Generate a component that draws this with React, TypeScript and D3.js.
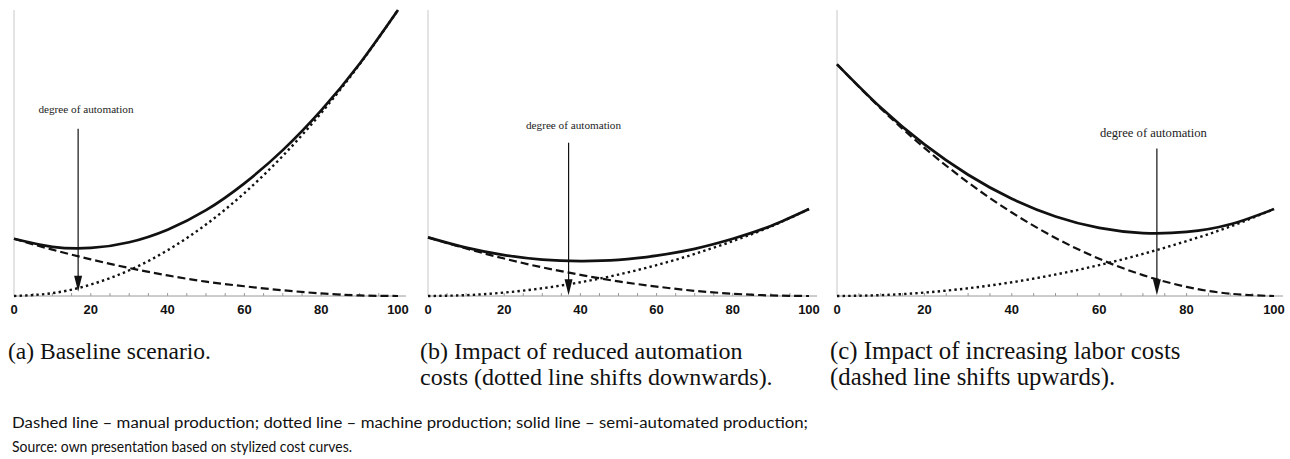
import React from "react";
import * as d3 from "d3";

// ---- data ----
const degree = [0, 10, 20, 30, 40, 50, 60, 70, 80, 90, 100];

// (a) Baseline scenario
const manualA = [20, 16.2, 12.8, 9.8, 7.2, 5.0, 3.4, 2.0, 0.9, 0.2, 0];
const machineA = [0, 1, 4, 9, 16, 25, 36, 49, 64, 81, 100];
const semiA = [20, 17.2, 16.8, 18.8, 23.2, 30, 39.4, 51, 64.9, 81.2, 100];

// (b) Reduced automation costs
const manualB = [20.5, 16.6, 13.1, 10.0, 7.4, 5.1, 3.3, 1.8, 0.8, 0.2, 0];
const machineB = [0, 0.3, 1.2, 2.7, 4.8, 7.5, 10.8, 14.7, 19.2, 24.3, 30.4];
const semiB = [20.5, 16.9, 14.3, 12.7, 12.2, 12.6, 14.1, 16.5, 20.0, 24.5, 30.4];

// (c) Increasing labor costs
const manualC = [81, 65.6, 51.8, 39.7, 29.2, 20.3, 13.0, 7.3, 3.2, 0.8, 0];
const machineC = [0, 0.3, 1.2, 2.7, 4.8, 7.5, 10.8, 14.7, 19.2, 24.3, 30.4];
const semiC = [81, 65.9, 53.0, 42.4, 34.0, 27.8, 23.8, 22.0, 22.4, 25.1, 30.4];

// degree of automation annotations: [arrow x, text x, arrow start, arrow tip, text baseline] (data units)
const annotA = [16.7, 18.75, 58.5, 1.5, 63.9];
const annotB = [36.9, 38.2, 53.6, 0.3, 58.4];
const annotC = [73.2, 72.4, 51.6, 0.3, 55.6];

const xTickLabels = [0, 20, 40, 60, 80, 100];
const xMinorTicks = [5, 10, 15, 20, 25, 30, 35, 40, 45, 50, 55, 60, 65, 70, 75, 80, 85, 90, 95];

const captionA = ["(a) Baseline scenario."];
const captionB = ["(b) Impact of reduced automation", "costs (dotted line shifts downwards)."];
const captionC = ["(c) Impact of increasing labor costs", "(dashed line shifts upwards)."];
const footnote = [
  "Dashed line \u2013 manual production; dotted line \u2013 machine production; solid line \u2013 semi-automated production;",
  "Source: own presentation based on stylized cost curves.",
];

type PanelProps = {
  x0: number;
  x1: number;
  axisEnd: number;
  manual: number[];
  machine: number[];
  semi: number[];
  annot: number[];
  annotSize: number;
};

const yScale = d3.scaleLinear().domain([0, 100]).range([296, 10]);

function Panel({ x0, x1, axisEnd, manual, machine, semi, annot, annotSize }: PanelProps) {
  const x = d3.scaleLinear().domain([0, 100]).range([x0, x1]);
  const line = (vals: number[]) =>
    d3
      .line<number>()
      .x((_, i) => x(degree[i]))
      .y((d) => yScale(d))
      .curve(d3.curveNatural)(vals) || "";
  const [ax, tx, aStart, aTip, tBase] = annot;
  const axp = x(ax);
  const tipY = yScale(aTip);
  const headH = 16;
  const headW = 4;
  const base = yScale(0);
  return (
    <g>
      <line x1={x0} x2={x0} y1={yScale(100)} y2={base} stroke="#c8c8c8" strokeWidth={1} />
      <line x1={x0} x2={axisEnd} y1={base} y2={base} stroke="#9a9a9a" strokeWidth={1} />
      {xMinorTicks.map((t) => (
        <line key={"m" + t} x1={x(t)} x2={x(t)} y1={base} y2={base - 3} stroke="#9a9a9a" strokeWidth={1} />
      ))}
      {xTickLabels.map((t) => (
        <text
          key={"t" + t}
          x={x(t)}
          y={314}
          textAnchor="middle"
          fontFamily="Arial, 'Liberation Sans', sans-serif"
          fontWeight="bold"
          fontSize={13}
          fill="#111"
        >
          {t}
        </text>
      ))}
      <path d={line(manual)} fill="none" stroke="#111" strokeWidth={2.2} strokeDasharray="8,4" />
      <path d={line(machine)} fill="none" stroke="#111" strokeWidth={2.4} strokeDasharray="2.4,3.2" />
      <path d={line(semi)} fill="none" stroke="#111" strokeWidth={2.7} />
      <text
        x={x(tx)}
        y={yScale(tBase)}
        textAnchor="middle"
        fontFamily="'Times New Roman', 'Liberation Serif', serif"
        fontSize={annotSize}
        fill="#222"
      >
        degree of automation
      </text>
      <line x1={axp} x2={axp} y1={yScale(aStart)} y2={tipY - headH + 2} stroke="#111" strokeWidth={1.2} />
      <path
        d={`M${axp - headW},${tipY - headH} L${axp + headW},${tipY - headH} L${axp},${tipY} Z`}
        fill="#111"
      />
    </g>
  );
}

function Caption({ x, lines, size }: { x: number; lines: string[]; size: number }) {
  return (
    <text fontFamily="'Times New Roman', 'Liberation Serif', serif" fontSize={size} fill="#111">
      {lines.map((l, i) => (
        <tspan key={i} x={x} y={359 + i * 26}>
          {l}
        </tspan>
      ))}
    </text>
  );
}

export default function App() {
  return (
    <svg
      width={1290}
      height={459}
      style={{ position: "absolute", left: 0, top: 0, background: "#fff" }}
    >
      <rect x={0} y={0} width={1290} height={459} fill="#fff" />
      <Panel x0={14} x1={398} axisEnd={406} manual={manualA} machine={machineA} semi={semiA} annot={annotA} annotSize={11.2} />
      <Panel x0={428} x1={809} axisEnd={817} manual={manualB} machine={machineB} semi={semiB} annot={annotB} annotSize={11.2} />
      <Panel x0={837} x1={1274} axisEnd={1283} manual={manualC} machine={machineC} semi={semiC} annot={annotC} annotSize={12.6} />
      <Caption x={8} lines={captionA} size={23.5} />
      <Caption x={420} lines={captionB} size={24} />
      <Caption x={830} lines={captionC} size={24.8} />
      <text fontFamily="Lato, 'Open Sans', sans-serif" fontSize={15.5} fill="#111">
        <tspan x={12} y={428} textLength={796} lengthAdjust="spacingAndGlyphs">
          {footnote[0]}
        </tspan>
        <tspan x={12} y={452} textLength={340} lengthAdjust="spacingAndGlyphs">
          {footnote[1]}
        </tspan>
      </text>
    </svg>
  );
}
